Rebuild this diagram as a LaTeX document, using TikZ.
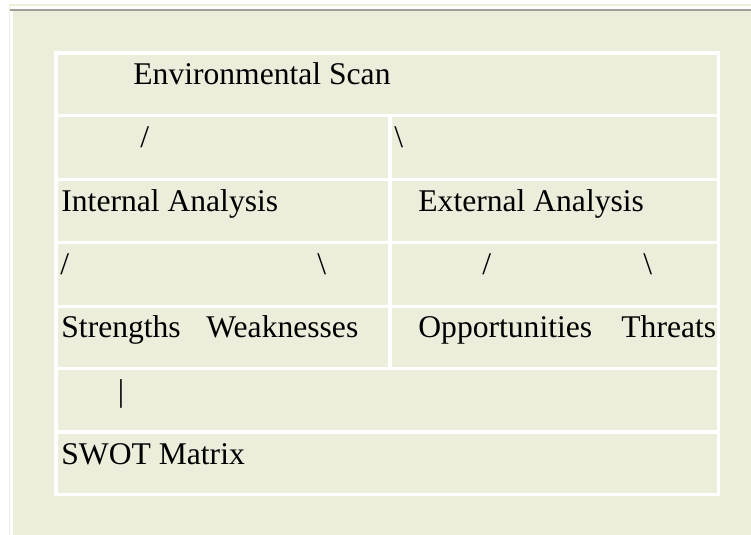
\documentclass[tikz,border=0pt]{standalone}
\usepackage{fontspec}
\setmainfont{Liberation Serif}
\usepackage{tikz}
\definecolor{cellbg}{HTML}{EDEDDC}
\definecolor{rulegray}{HTML}{A39E94}

\begin{document}
\begin{tikzpicture}[x=0.5pt,y=-0.5pt,
    cell/.style={fill=cellbg},
    lbl/.style={anchor=base west,inner sep=0pt,font=\fontsize{15.8}{19}\selectfont}]
  \useasboundingbox (0,0) rectangle (751,535);
  \fill[white] (0,0) rectangle (751,535);
  \draw[cellbg,line width=0.6pt] (9.5,535) |- (751,5);
  \fill[cellbg] (13,11) rectangle (751,535);
  \draw[rulegray,line width=0.8pt] (10,9.8) -- (751,9.8);
  % table grid
  \fill[white] (54,51) rectangle (720,496);
  \fill[cell] (58,55) rectangle (717,114);
  \fill[cell] (58,117) rectangle (388,178);
  \fill[cell] (392,117) rectangle (717,178);
  \fill[cell] (58,181) rectangle (388,241);
  \fill[cell] (392,181) rectangle (717,241);
  \fill[cell] (58,244) rectangle (388,305);
  \fill[cell] (392,244) rectangle (717,305);
  \fill[cell] (58,308) rectangle (388,367);
  \fill[cell] (392,308) rectangle (717,367);
  \fill[cell] (58,370) rectangle (717,430);
  \fill[cell] (58,434) rectangle (717,493);
  % texts
  \node[lbl] (scan) at (133,85) {Environmental Scan};
  \node[lbl] (scanL) at (140,148) {/};
  \node[lbl] (scanR) at (394,148) {\textbackslash};
  \node[lbl] (intern) at (61,212) {Internal Analysis};
  \node[lbl] (extern) at (418,212) {External Analysis};
  \node[lbl] (internL) at (60,275) {/};
  \node[lbl] (internR) at (317,275) {\textbackslash};
  \node[lbl] (externL) at (482,275) {/};
  \node[lbl] (externR) at (643,275) {\textbackslash};
  \node[lbl] (str) at (61,337) {Strengths};
  \node[lbl] (weak) at (206,337) {Weaknesses};
  \node[lbl] (opp) at (418,337) {Opportunities};
  \node[lbl] (thr) at (621,337) {Threats};
  \node[lbl] (bar) at (117.5,401) {|};
  \node[lbl] (swot) at (61,465) {SWOT Matrix};
\end{tikzpicture}
\end{document}
